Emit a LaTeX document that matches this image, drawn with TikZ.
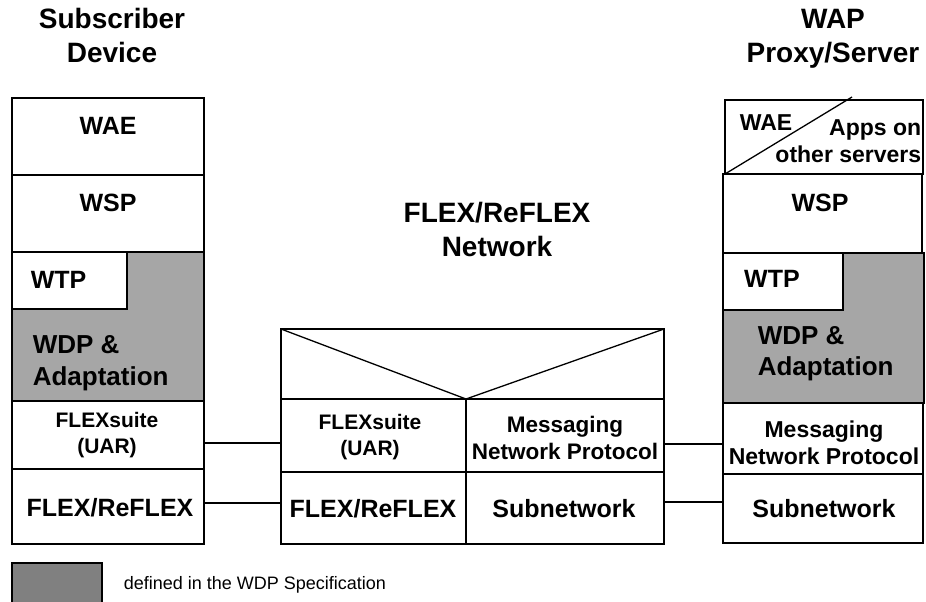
\documentclass[tikz,border=0pt]{standalone}
\usepackage{fontspec}
\setmainfont{Liberation Sans}
\definecolor{shade}{HTML}{A6A6A6}
\definecolor{legendgray}{HTML}{808080}
\begin{document}
\begin{tikzpicture}[x=1pt,y=-1pt,line width=1.6pt,
  layerbox/.style={draw, rectangle, inner sep=0pt, outer sep=0pt, fill=white},
  shadebox/.style={layerbox, fill=shade},
  ttl/.style={font=\bfseries\fontsize{28}{32}\selectfont, anchor=base, inner sep=0pt},
  lbl/.style={font=\bfseries\fontsize{25}{29}\selectfont, anchor=base, inner sep=0pt},
  big/.style={font=\bfseries\fontsize{26}{30}\selectfont, anchor=base west, inner sep=0pt},
  sml/.style={font=\bfseries\fontsize{21}{25}\selectfont, anchor=base, inner sep=0pt},
  med/.style={font=\bfseries\fontsize{23}{27}\selectfont, anchor=base, inner sep=0pt},
  conn/.style={draw, line width=1.3pt}]
\useasboundingbox (0,0) rectangle (926,602);

% titles
\node[ttl] (t1a) at (112,29) {Subscriber};
\node[ttl] (t1b) at (112,63) {Device};
\node[ttl] (t2a) at (833,29) {WAP};
\node[ttl] (t2b) at (833,63) {Proxy/Server};
\node[ttl] (t3a) at (497,222) {FLEX/ReFLEX};
\node[ttl] (t3b) at (497,256) {Network};

% left stack
\node[layerbox, minimum width=192, minimum height=77] (lwae) at (108,136.5) {};
\node[layerbox, minimum width=192, minimum height=77] (lwsp) at (108,213.5) {};
\node[shadebox, minimum width=192, minimum height=149] (lwdp) at (108,326.5) {};
\node[layerbox, minimum width=115, minimum height=57] (lwtp) at (69.5,280.5) {};
\node[layerbox, minimum width=192, minimum height=68] (lfs) at (108,435) {};
\node[layerbox, minimum width=192, minimum height=75] (lflex) at (108,506.5) {};
\node[lbl] (lwaet) at (108,134) {WAE};
\node[lbl] (lwspt) at (108,211) {WSP};
\node[lbl, anchor=base west] (lwtpt) at (30,288) {WTP};
\node[big] (lwdpt1) at (32,353) {WDP \&};
\node[big] (lwdpt2) at (32,385) {Adaptation};
\node[sml] (lfst1) at (107,427) {FLEXsuite};
\node[sml] (lfst2) at (107,453) {(UAR)};
\node[lbl] (lflext) at (110,516) {FLEX/ReFLEX};

% middle stack
\node[layerbox, minimum width=383, minimum height=70] (mtop) at (472.5,364) {};
\node[layerbox, minimum width=185, minimum height=73] (mfs) at (373.5,435.5) {};
\node[layerbox, minimum width=198, minimum height=73] (mmsg) at (565,435.5) {};
\node[layerbox, minimum width=185, minimum height=72] (mflex) at (373.5,508) {};
\node[layerbox, minimum width=198, minimum height=72] (msub) at (565,508) {};
\draw[line width=1.3pt] (mtop.north west) -- (mfs.north east) -- (mtop.north east);
\node[sml] (mfst1) at (370,429) {FLEXsuite};
\node[sml] (mfst2) at (370,455) {(UAR)};
\node[font=\bfseries\fontsize{22.5}{26}\selectfont, anchor=base, inner sep=0pt] (mmsgt1) at (565,432) {Messaging};
\node[font=\bfseries\fontsize{22.5}{26}\selectfont, anchor=base, inner sep=0pt] (mmsgt2) at (565,459) {Network Protocol};
\node[lbl] (mflext) at (373,517) {FLEX/ReFLEX};
\node[lbl] (msubt) at (564,517) {Subnetwork};

% right stack
\node[layerbox, minimum width=198, minimum height=74] (rwae) at (824,137) {};
\draw[line width=1.3pt] (rwae.south west) -- (852,97);
\node[layerbox, minimum width=199, minimum height=79] (rwsp) at (822.5,213.5) {};
\node[shadebox, minimum width=201, minimum height=150] (rwdp) at (823.5,328) {};
\node[layerbox, minimum width=120, minimum height=57] (rwtp) at (783,281.5) {};
\node[layerbox, minimum width=200, minimum height=71] (rmsg) at (823,438.5) {};
\node[layerbox, minimum width=200, minimum height=69] (rsub) at (823,508.5) {};
\node[med, anchor=base west] (rwaet) at (739,130) {WAE};
\node[med, anchor=base east] (rappt1) at (922,135) {Apps on};
\node[med, anchor=base east] (rappt2) at (922,162) {other servers};
\node[lbl] (rwspt) at (820,211) {WSP};
\node[lbl] (rwtpt) at (772,287) {WTP};
\node[big] (rwdpt1) at (757,344) {WDP \&};
\node[big] (rwdpt2) at (757,375) {Adaptation};
\node[med] (rmsgt1) at (824,437) {Messaging};
\node[med] (rmsgt2) at (824,464) {Network Protocol};
\node[lbl] (rsubt) at (824,517) {Subnetwork};

% connectors
\coordinate (ya) at (0,443);
\coordinate (yb) at (0,503);
\coordinate (yc) at (0,444);
\coordinate (yd) at (0,502);
\draw[conn] (lfs.east |- ya) -- (mfs.west |- ya);
\draw[conn] (lflex.east |- yb) -- (mflex.west |- yb);
\draw[conn] (mmsg.east |- yc) -- (rmsg.west |- yc);
\draw[conn] (msub.east |- yd) -- (rsub.west |- yd);

% legend
\node[layerbox, fill=legendgray, minimum width=90, minimum height=49] (leg) at (57,587.5) {};
\node[font=\fontsize{18}{22}\selectfont, anchor=base west, inner sep=0pt] (legt) at (123,589) {defined in the WDP Specification};
\end{tikzpicture}
\end{document}
